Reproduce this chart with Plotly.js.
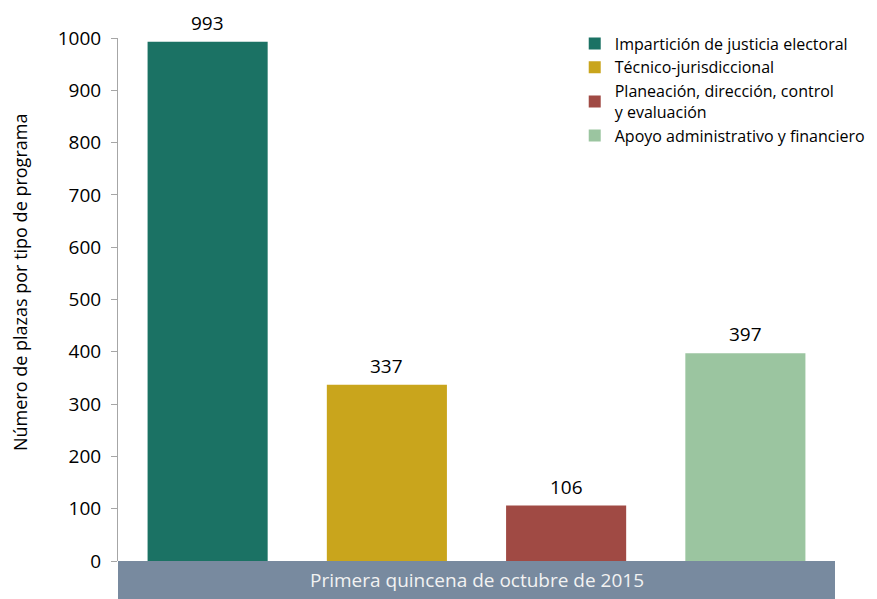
<!DOCTYPE html>
<html><head><meta charset="utf-8">
<script src="https://cdn.plot.ly/plotly-3.0.1.min.js"></script>
<style>body{margin:0;background:#fff}#chart{width:877px;height:599px}</style>
</head><body><div id="chart"></div>
<script>
const period = ["Primera quincena de octubre de 2015"];
const seriesNames = ["Impartición de justicia electoral", "Técnico-jurisdiccional", "Planeación, dirección, control<br>y evaluación", "Apoyo administrativo y financiero"];
const seriesValues = [993, 337, 106, 397];
const colors = ["#1b7264", "#c9a51c", "#a04a44", "#9bc5a0"];
const yTicks = [0,100,200,300,400,500,600,700,800,900,1000];
const yTitle = "Número de plazas por tipo de programa";
const FONT = 'Open Sans, sans-serif';

const traces = seriesNames.map((n,i)=>({
  type:'bar', name:n, x:[i], y:[seriesValues[i]], width:0.67,
  marker:{color:colors[i]}, hoverinfo:'skip'
}));

const valueLabels = seriesValues.map((v,i)=>({
  xref:'x', yref:'y', x:i, y:v, yanchor:'bottom', xanchor:'center', yshift:4, showarrow:false,
  text:String(v), font:{family:FONT, size:19, color:'#000'}
}));

const layout = {
  width:877, height:599,
  margin:{l:118, r:42, t:38, b:38, autoexpand:false},
  paper_bgcolor:'#fff', plot_bgcolor:'#fff',
  barmode:'overlay',
  showlegend:true,
  legend:{x:0.637, y:1.022, xanchor:'left', yanchor:'top', font:{family:FONT, size:16, color:'#000'}, traceorder:'normal', tracegroupgap:0, bgcolor:'rgba(0,0,0,0)'},
  xaxis:{range:[-0.5,3.5], showticklabels:false, showline:false, showgrid:false, zeroline:false, ticks:''},
  yaxis:{range:[0,1000], tickvals:yTicks, showgrid:false, zeroline:false, showline:true, linecolor:'#a6a6a6', linewidth:1,
    ticks:'outside', ticklen:6, tickcolor:'#a6a6a6', ticklabelstandoff:6, tickfont:{family:FONT, size:19, color:'#000'}},
  shapes:[{type:'rect', xref:'paper', yref:'paper', x0:0, x1:1, y0:-38/523, y1:0, fillcolor:'#788a9f', line:{width:0}, layer:'above'}],
  annotations:valueLabels.concat([
    {xref:'paper', yref:'paper', x:0.5, y:-19/523, xanchor:'center', yanchor:'middle', showarrow:false, text:period[0], font:{family:FONT, size:19, color:'#f2f2f2'}},
    {xref:'paper', yref:'paper', x:-98/717, y:(561-283)/523, xanchor:'center', yanchor:'middle', textangle:-90, showarrow:false, text:yTitle, font:{family:FONT, size:18, color:'#000'}}
  ])
};
Plotly.newPlot('chart', traces, layout, {displayModeBar:false, staticPlot:true});
</script></body></html>
